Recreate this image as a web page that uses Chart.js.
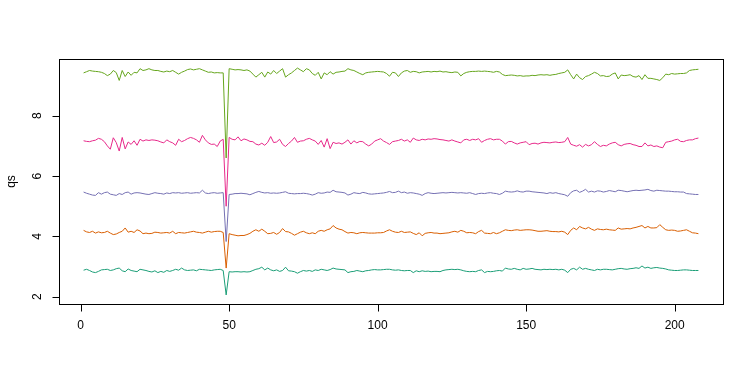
<!DOCTYPE html>
<html>
<head>
<meta charset="utf-8">
<script src="https://cdn.jsdelivr.net/npm/chart.js@4/dist/chart.umd.min.js"></script>
<style>
html,body{margin:0;padding:0;background:#fff;}
#wrap{width:756px;height:378px;}
</style>
</head>
<body>
<div id="wrap"><canvas id="c" width="756" height="378"></canvas></div>
<script>
// ---- data (index 1..208) ----
const series1 = [2.88,2.91,2.87,2.82,2.80,2.84,2.89,2.90,2.91,2.87,2.89,2.93,2.95,2.86,2.83,2.92,2.87,2.85,2.83,2.91,2.89,2.87,2.84,2.82,2.86,
2.80,2.84,2.81,2.87,2.84,2.87,2.91,2.88,2.95,2.89,2.87,2.88,2.89,2.86,2.91,2.90,2.89,2.88,2.87,2.89,2.90,2.91,2.87,2.06,
2.83,2.82,2.83,2.83,2.82,2.83,2.82,2.83,2.87,2.91,2.93,2.98,2.89,2.95,2.89,2.86,2.89,2.84,2.87,2.98,2.86,2.85,2.83,2.78,2.83,2.87,
2.85,2.87,2.84,2.89,2.87,2.91,2.89,2.87,2.90,2.95,2.92,2.91,2.90,2.89,2.80,2.83,2.84,2.87,2.85,2.83,2.86,2.87,2.89,2.90,2.89,
2.89,2.90,2.91,2.91,2.89,2.88,2.89,2.87,2.86,2.87,2.87,2.80,2.86,2.83,2.86,2.84,2.85,2.83,2.84,2.84,2.83,2.87,2.89,2.90,2.91,
2.90,2.91,2.89,2.86,2.84,2.83,2.84,2.83,2.87,2.89,2.80,2.84,2.83,2.84,2.86,2.87,2.85,2.95,2.92,2.91,2.94,2.91,2.89,2.94,2.91,
2.92,2.94,2.91,2.90,2.89,2.91,2.90,2.91,2.90,2.91,2.89,2.91,2.88,2.80,2.91,2.94,2.89,2.98,2.91,2.94,2.91,2.89,2.87,2.91,2.89,
2.91,2.91,2.90,2.89,2.91,2.93,2.94,2.92,2.91,2.93,2.94,2.96,2.94,3.02,2.95,2.98,2.94,2.96,2.97,2.95,2.94,2.92,2.89,2.88,2.87,2.87,2.88,2.89,2.89,2.88,2.87,2.87,2.87];

const series2 = [4.20,4.15,4.13,4.17,4.11,4.15,4.12,4.13,4.17,4.11,4.06,4.08,4.13,4.17,4.28,4.14,4.17,4.13,4.22,4.18,4.09,4.11,4.09,4.10,4.14,
4.13,4.11,4.12,4.13,4.11,4.17,4.09,4.13,4.12,4.11,4.13,4.15,4.17,4.14,4.13,4.11,4.14,4.17,4.14,4.16,4.17,4.17,4.13,2.95,
4.09,4.06,4.04,4.02,4.03,4.03,4.06,4.10,4.17,4.22,4.17,4.24,4.17,4.09,4.10,4.13,4.07,4.13,4.26,4.16,4.15,4.10,4.04,4.09,4.14,4.17,
4.12,4.09,4.12,4.09,4.17,4.20,4.17,4.22,4.25,4.36,4.28,4.24,4.22,4.16,4.11,4.13,4.12,4.09,4.12,4.13,4.12,4.11,4.11,4.11,4.12,
4.12,4.13,4.18,4.22,4.17,4.14,4.13,4.17,4.13,4.14,4.15,4.10,4.06,4.12,4.02,4.10,4.12,4.13,4.11,4.11,4.09,4.10,4.11,4.12,4.15,
4.17,4.14,4.20,4.17,4.12,4.13,4.12,4.09,4.16,4.20,4.11,4.10,4.09,4.13,4.09,4.12,4.17,4.22,4.20,4.19,4.21,4.22,4.20,4.21,4.22,
4.22,4.21,4.19,4.17,4.17,4.18,4.19,4.17,4.16,4.16,4.15,4.17,4.14,4.06,4.20,4.28,4.22,4.33,4.28,4.25,4.30,4.24,4.20,4.25,4.23,
4.22,4.24,4.22,4.21,4.20,4.28,4.24,4.25,4.26,4.25,4.28,4.30,4.33,4.36,4.28,4.33,4.28,4.28,4.29,4.39,4.30,4.22,4.20,4.21,4.20,4.17,4.18,4.20,4.22,4.17,4.12,4.11,4.09];

const series3 = [5.47,5.43,5.40,5.37,5.36,5.45,5.40,5.45,5.47,5.40,5.38,5.36,5.42,5.39,5.45,5.47,5.40,5.44,5.45,5.44,5.42,5.40,5.39,5.42,5.45,
5.43,5.42,5.40,5.44,5.42,5.45,5.44,5.45,5.43,5.44,5.45,5.43,5.44,5.45,5.44,5.53,5.44,5.42,5.44,5.45,5.43,5.44,5.45,3.83,
5.39,5.40,5.42,5.42,5.43,5.42,5.41,5.38,5.42,5.46,5.49,5.46,5.44,5.45,5.43,5.44,5.43,5.44,5.46,5.48,5.43,5.42,5.41,5.42,5.42,5.43,
5.42,5.40,5.37,5.40,5.45,5.43,5.44,5.47,5.46,5.53,5.48,5.47,5.46,5.44,5.37,5.40,5.45,5.43,5.42,5.46,5.44,5.41,5.40,5.41,5.42,
5.43,5.44,5.46,5.49,5.45,5.46,5.50,5.45,5.47,5.43,5.45,5.44,5.42,5.40,5.36,5.42,5.45,5.43,5.42,5.43,5.44,5.45,5.44,5.45,5.46,
5.45,5.44,5.45,5.44,5.43,5.45,5.42,5.39,5.42,5.43,5.42,5.44,5.45,5.43,5.42,5.39,5.43,5.50,5.48,5.47,5.48,5.51,5.48,5.47,5.50,
5.50,5.48,5.47,5.46,5.45,5.44,5.42,5.45,5.43,5.45,5.42,5.40,5.38,5.33,5.45,5.51,5.53,5.46,5.50,5.56,5.47,5.50,5.47,5.51,5.50,
5.47,5.49,5.52,5.50,5.48,5.53,5.52,5.50,5.48,5.50,5.52,5.53,5.52,5.53,5.54,5.56,5.52,5.50,5.53,5.52,5.51,5.50,5.50,5.49,5.48,5.48,5.47,5.47,5.42,5.41,5.40,5.39,5.39];

const series4 = [7.17,7.15,7.14,7.17,7.19,7.25,7.22,7.14,7.00,6.89,7.27,7.11,6.83,7.28,6.90,7.13,7.05,7.17,7.02,7.22,7.16,7.20,7.18,7.20,7.19,
7.17,7.13,7.10,7.20,7.14,7.10,7.02,7.22,7.14,7.18,7.24,7.28,7.25,7.20,7.12,7.35,7.20,7.10,7.05,7.06,6.98,7.16,7.22,5.00,
7.28,7.22,7.20,7.30,7.17,7.23,7.20,7.15,7.14,7.06,7.03,7.09,7.02,7.12,7.31,7.11,7.13,7.22,7.05,6.98,7.08,7.16,7.28,7.12,7.16,7.17,
7.22,7.25,7.20,7.16,7.05,7.18,6.96,7.24,6.91,7.12,7.08,7.10,7.06,7.12,7.20,7.06,7.17,7.10,7.15,7.14,7.06,7.00,7.06,7.16,7.20,
7.24,7.16,7.11,7.05,7.14,7.16,7.18,7.22,7.16,7.20,7.12,7.26,7.20,7.18,7.22,7.20,7.23,7.22,7.24,7.23,7.21,7.20,7.18,7.16,7.20,
7.16,7.13,7.10,7.20,7.22,7.18,7.22,7.20,7.24,7.12,7.18,7.22,7.24,7.20,7.22,7.22,7.16,7.06,7.14,7.15,7.10,7.06,7.10,7.12,7.14,
7.04,7.08,7.09,7.06,7.10,7.12,7.11,7.10,7.12,7.13,7.11,7.12,7.14,7.28,7.06,7.02,6.99,7.04,6.96,7.05,7.00,7.04,7.14,7.05,6.98,
7.02,7.00,7.06,7.10,7.12,7.04,7.00,7.05,7.07,7.08,7.04,7.02,6.98,6.98,7.10,7.00,7.03,6.98,7.00,6.96,6.94,7.12,7.14,7.16,7.20,7.22,7.15,7.14,7.18,7.20,7.20,7.24,7.26];

const series5 = [9.42,9.46,9.50,9.48,9.47,9.46,9.44,9.40,9.33,9.38,9.50,9.43,9.17,9.50,9.30,9.45,9.34,9.44,9.42,9.56,9.50,9.52,9.56,9.52,9.50,
9.50,9.47,9.45,9.48,9.46,9.50,9.44,9.38,9.44,9.48,9.53,9.55,9.52,9.54,9.56,9.52,9.48,9.44,9.45,9.42,9.43,9.42,9.42,6.60,
9.56,9.54,9.52,9.53,9.52,9.50,9.52,9.48,9.38,9.28,9.36,9.44,9.28,9.45,9.38,9.50,9.40,9.48,9.56,9.28,9.36,9.42,9.50,9.58,9.52,9.46,
9.56,9.52,9.40,9.34,9.44,9.22,9.42,9.36,9.46,9.38,9.44,9.45,9.47,9.48,9.56,9.52,9.50,9.45,9.40,9.36,9.42,9.44,9.45,9.46,9.47,
9.46,9.45,9.40,9.31,9.44,9.42,9.30,9.42,9.48,9.50,9.44,9.47,9.46,9.42,9.45,9.46,9.47,9.45,9.47,9.46,9.48,9.45,9.46,9.44,9.43,
9.45,9.44,9.32,9.40,9.44,9.46,9.47,9.47,9.48,9.47,9.48,9.47,9.46,9.44,9.47,9.45,9.37,9.33,9.34,9.35,9.34,9.32,9.33,9.31,9.32,
9.32,9.34,9.33,9.35,9.36,9.35,9.36,9.34,9.36,9.37,9.40,9.42,9.44,9.52,9.36,9.22,9.38,9.26,9.20,9.30,9.33,9.38,9.44,9.40,9.32,
9.33,9.30,9.31,9.38,9.42,9.22,9.35,9.33,9.34,9.36,9.30,9.28,9.33,9.20,9.36,9.24,9.24,9.22,9.20,9.17,9.26,9.38,9.36,9.40,9.38,9.39,9.40,9.40,9.42,9.50,9.52,9.53,9.54];

const xTicks = [0, 50, 100, 150, 200];
const yTicks = [2, 4, 6, 8];
const yLabel = "qs";
const colors = ["#1B9E77", "#D95F02", "#7570B3", "#E7298A", "#66A61E"];

// ---- build ----
const allSeries = [series1, series2, series3, series4, series5];
const n = series1.length;
let lo = Infinity, hi = -Infinity;
allSeries.forEach(s => s.forEach(v => { if (v < lo) lo = v; if (v > hi) hi = v; }));
const yPad = (hi - lo) * 0.04, xPad = (n - 1) * 0.04;

const datasets = allSeries.map((s, k) => ({
  data: s.map((v, i) => ({ x: i + 1, y: v })),
  borderColor: colors[k],
  borderWidth: 1,
  pointRadius: 0,
  tension: 0,
  fill: false
}));

const FONT = '12px "Liberation Sans", Arial, Helvetica, sans-serif';

const axesPlugin = {
  id: 'baseAxes',
  afterDraw(chart) {
    const ctx = chart.ctx, a = chart.chartArea;
    const xs = chart.scales.x, ys = chart.scales.y;
    ctx.save();
    ctx.strokeStyle = '#000';
    ctx.lineWidth = 1;
    ctx.strokeRect(Math.round(a.left) + 0.5, Math.round(a.top) + 0.5,
                   Math.round(a.right - a.left), Math.round(a.bottom - a.top));
    ctx.fillStyle = '#000';
    ctx.font = FONT;
    // x axis
    const xb = Math.round(a.bottom) + 0.5;
    ctx.beginPath();
    ctx.moveTo(xs.getPixelForValue(xTicks[0]), xb);
    ctx.lineTo(xs.getPixelForValue(xTicks[xTicks.length - 1]), xb);
    xTicks.forEach(t => {
      const px = Math.round(xs.getPixelForValue(t)) + 0.5;
      ctx.moveTo(px, xb); ctx.lineTo(px, xb + 7);
    });
    ctx.stroke();
    ctx.textAlign = 'center';
    ctx.textBaseline = 'middle';
    xTicks.forEach(t => ctx.fillText(String(t), xs.getPixelForValue(t), a.bottom + 22));
    // y axis
    const yl = Math.round(a.left) + 0.5;
    ctx.beginPath();
    ctx.moveTo(yl, ys.getPixelForValue(yTicks[0]));
    ctx.lineTo(yl, ys.getPixelForValue(yTicks[yTicks.length - 1]));
    yTicks.forEach(t => {
      const py = Math.round(ys.getPixelForValue(t)) + 0.5;
      ctx.moveTo(yl, py); ctx.lineTo(yl - 7, py);
    });
    ctx.stroke();
    yTicks.forEach(t => {
      ctx.save();
      ctx.translate(a.left - 21, ys.getPixelForValue(t));
      ctx.rotate(-Math.PI / 2);
      ctx.fillText(String(t), 0, 0);
      ctx.restore();
    });
    ctx.save();
    ctx.translate(12, (a.top + a.bottom) / 2);
    ctx.rotate(-Math.PI / 2);
    ctx.fillText(yLabel, 0, 0);
    ctx.restore();
    ctx.restore();
  }
};

new Chart(document.getElementById('c'), {
  type: 'line',
  data: { datasets },
  options: {
    responsive: false,
    animation: false,
    devicePixelRatio: 1,
    layout: { padding: { left: 59, top: 59, right: 33, bottom: 74 } },
    plugins: { legend: { display: false }, tooltip: { enabled: false } },
    scales: {
      x: { type: 'linear', display: false, min: 1 - xPad, max: n + xPad },
      y: { type: 'linear', display: false, min: lo - yPad, max: hi + yPad }
    }
  },
  plugins: [axesPlugin]
});
</script>
</body>
</html>
